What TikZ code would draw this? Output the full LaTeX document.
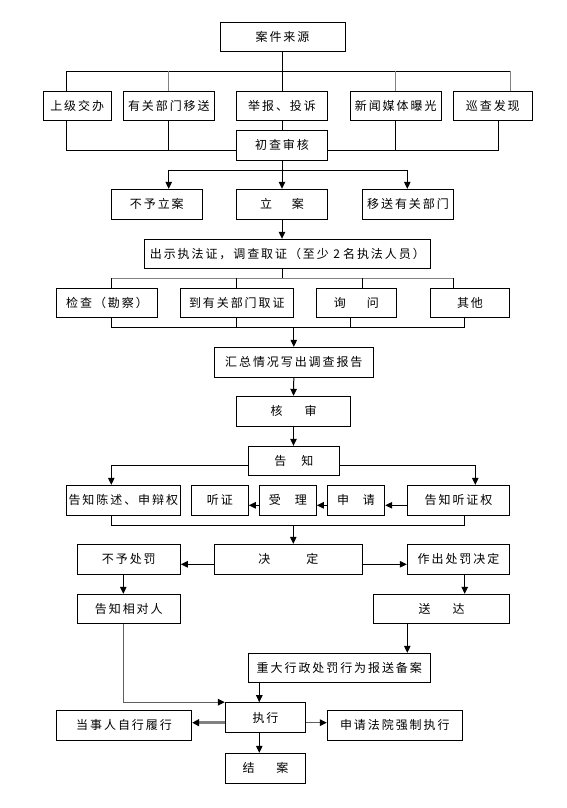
\documentclass[tikz,border=0pt]{standalone}
\usepackage{fontspec}
\setmainfont{Noto Sans CJK SC}[LetterSpace=16]
\usetikzlibrary{arrows.meta}
\definecolor{lgray}{RGB}{130,130,130}
\definecolor{dgray}{RGB}{95,95,95}
\tikzset{
  box/.style={draw, line width=1pt, fill=white, minimum height=29.5pt, inner sep=0pt,
    font=\fontsize{12}{14}\selectfont},
  ln/.style={line width=1pt},
  gln/.style={line width=1pt, draw=lgray},
  arr/.style={line width=1pt, -{Triangle[length=7pt,width=6.5pt]}},
  garr/.style={line width=1.4pt, draw=dgray, -{Triangle[length=7pt,width=6.5pt,color=black]}},
  garrthick/.style={line width=2.6pt, draw=lgray, -{Triangle[length=7pt,width=7pt,color=black]}},
}
\begin{document}
\begin{tikzpicture}[x=1pt,y=-1pt]
\useasboundingbox[fill=white] (0,0) rectangle (566,808);
% boxes
\node[box,minimum width=125] (src) at (282.5,36.8) {案件来源};
\node[box,minimum width=67.7,minimum height=28.7] (r1a) at (77.2,105.7) {上级交办};
\node[box,minimum width=91,minimum height=28.7] (r1b) at (168.8,105.7) {有关部门移送};
\node[box,minimum width=91,minimum height=28.7] (r1c) at (282,105.7) {举报、投诉};
\node[box,minimum width=91.3,minimum height=28.7] (r1d) at (395.7,105.7) {新闻媒体曝光};
\node[box,minimum width=79,minimum height=28.7] (r1e) at (492.8,105.7) {巡查发现};
\node[box,minimum width=91,minimum height=30] (chk) at (282,145.3) {初查审核};
\node[box,minimum width=91,minimum height=30] (r2a) at (156.8,204.3) {不予立案};
\node[box,minimum width=91,minimum height=30] (r2b) at (282,204.3) {立\hspace{20pt}案};
\node[box,minimum width=91.4,minimum height=30] (r2c) at (408,204.3) {移送有关部门};
\node[box,minimum width=286,minimum height=29] (inv) at (287.3,253.8) {出示执法证，调查取证（至少 2\hspace{3pt}名执法人员）};
\node[box,minimum width=100.6,minimum height=29] (r3a) at (107,302.8) {检查（勘察）};
\node[box,minimum width=113,minimum height=29] (r3b) at (236.8,302.8) {到有关部门取证};
\node[box,minimum width=80,minimum height=29] (r3c) at (356.3,302.8) {询\hspace{21pt}问};
\node[box,minimum width=79.4,minimum height=29] (r3d) at (470,302.8) {其他};
\node[box,minimum width=159,minimum height=30] (rep) at (293.8,362.3) {汇总情况写出调查报告};
\node[box,minimum width=114.4,minimum height=30] (rev) at (293.5,411.3) {核\hspace{22pt}审};
\node[box,minimum width=91,minimum height=29] (ntf) at (293.8,460.8) {告\hspace{15pt}知};
\node[box,minimum width=114,minimum height=30] (r4a) at (123.3,500.3) {告知陈述、申辩权};
\node[box,minimum width=57,minimum height=30] (r4b) at (219.8,500.3) {听证};
\node[box,minimum width=57,minimum height=30] (r4c) at (287.8,500.3) {受\hspace{14pt}理};
\node[box,minimum width=57.4,minimum height=30] (r4d) at (356,500.3) {申\hspace{14pt}请};
\node[box,minimum width=102.4,minimum height=30] (r4e) at (458.5,500.3) {告知听证权};
\node[box,minimum width=103,minimum height=30] (r5a) at (128.8,559.3) {不予处罚};
\node[box,minimum width=148,minimum height=30] (dec) at (288.3,559.3) {决\hspace{36pt}定};
\node[box,minimum width=102.4,minimum height=30] (r5c) at (458.5,559.3) {作出处罚决定};
\node[box,minimum width=103,minimum height=29] (tell) at (128.8,608.8) {告知相对人};
\node[box,minimum width=136.4,minimum height=29] (dlv) at (441.5,608.8) {送\hspace{22pt}达};
\node[box,minimum width=182,minimum height=29.4] (rec) at (339.3,668) {重大行政处罚行为报送备案};
\node[box,minimum width=80.4,minimum height=29.6] (exe) at (265.5,717.5) {执行};
\node[box,minimum width=135.4,minimum height=30] (self) at (124,725.3) {当事人自行履行};
\node[box,minimum width=135,minimum height=30] (crt) at (394.8,725.3) {申请法院强制执行};
\node[box,minimum width=80.4,minimum height=30] (end) at (265.5,768.3) {结\hspace{22pt}案};
% sources bus
\coordinate (b1L) at (66.7,71); \coordinate (b1R) at (510,71);
\draw[ln] (src.south) -- (src.south |- b1L);
\draw[ln] (b1L) -- (b1R);
\draw[ln] (b1L) -- (b1L |- r1a.north);
\draw[gln] (r1b.north |- b1L) -- (r1b.north);
\draw[ln] (r1c.north |- b1L) -- (r1c.north);
\draw[gln] (r1d.north |- b1L) -- (r1d.north);
\draw[gln] (b1R) -- (b1R |- r1e.north);
\coordinate (b2L) at (66.7,150); \coordinate (b2R) at (498,150);
\draw[ln] (b2L |- r1a.south) -- (b2L) -- (b2L -| chk.west);
\draw[ln] (r1b.south) -- (r1b.south |- b2L);
\draw[ln] (r1c.south) -- (chk.north);
\draw[ln] (b2R |- r1e.south) -- (b2R) -- (b2R -| chk.east);
\draw[ln] (r1d.south) -- (r1d.south |- b2R);
% filing
\coordinate (b3L) at (168.7,170.3); \coordinate (b3R) at (407.3,170.3);
\draw[ln] (b3L) -- (b3R);
\draw[arr] (b3L) -- (b3L |- r2a.north);
\draw[arr] (chk.south) -- (r2b.north);
\draw[arr] (b3R) -- (b3R |- r2c.north);
\draw[arr] (r2b.south) -- (r2b.south |- inv.north);
% investigation
\coordinate (b4L) at (111.3,278.3); \coordinate (b4R) at (453.3,278.3);
\draw[ln] (inv.south -| r2b.south) -- (r2b.south |- b4L);
\draw[gln] (b4L) -- (b4R);
\draw[ln] (b4L) -- (b4L |- r3a.north);
\coordinate (d4b) at (236.3,278.3); \draw[ln] (d4b) -- (d4b |- r3b.north);
\coordinate (d4c) at (362.3,278.3); \draw[ln] (d4c) -- (d4c |- r3c.north);
\draw[ln] (b4R) -- (b4R |- r3d.north);
\coordinate (b5L) at (111.3,327.3); \coordinate (b5R) at (464.7,327.3);
\draw[ln] (b5L |- r3a.south) -- (b5L) -- (b5R) -- (b5R |- r3d.south);
\draw[ln] (d4b |- r3b.south) -- (d4b |- b5L);
\coordinate (u5c) at (350.3,327.3); \draw[ln] (u5c |- r3c.south) -- (u5c);
\draw[arr] (rep.north |- b5L) -- (rep.north);
\draw[arr] (rep.south) -- (rev.north);
\draw[arr] (rev.south) -- (rev.south |- ntf.north);
% notification
\coordinate (b6L) at (111.3,465.3); \coordinate (b6R) at (475.3,465.3);
\draw[arr] (b6L -| ntf.west) -- (b6L) -- (b6L |- r4a.north);
\draw[arr] (b6R -| ntf.east) -- (b6R) -- (b6R |- r4e.north);
\coordinate (h7) at (0,505.3);
\draw[arr] (r4e.west |- h7) -- (r4d.east |- h7);
\draw[arr] (r4d.west |- h7) -- (r4c.east |- h7);
\draw[arr] (r4c.west |- h7) -- (r4b.east |- h7);
\coordinate (b7L) at (111.3,525.3); \coordinate (b7R) at (464.7,525.3);
\draw[ln] (b7L |- r4a.south) -- (b7L) -- (b7R) -- (b7R |- r4e.south);
\coordinate (b7c) at (293.3,525.3);
\draw[arr] (b7c) -- (b7c |- dec.north);
% decision
\coordinate (h8) at (0,564.3);
\draw[arr] (dec.west |- h8) -- (r5a.east |- h8);
\draw[arr] (dec.east |- h8) -- (r5c.west |- h8);
\coordinate (v9) at (123.3,0);
\draw[arr] (v9 |- r5a.south) -- (v9 |- tell.north);
\coordinate (v10) at (464.7,0);
\draw[arr] (v10 |- r5c.south) -- (v10 |- dlv.north);
\coordinate (v11) at (407.3,0);
\draw[arr] (v11 |- dlv.south) -- (v11 |- rec.north);
\draw[garr] (v9 |- tell.south) |- (exe.north west);
\coordinate (v12) at (259.3,0);
\draw[arr] (v12 |- rec.south) -- (v12 |- exe.north);
\coordinate (h13) at (0,722.7);
\draw[garrthick] (exe.west |- h13) -- (self.east |- h13);
\draw[garr] (exe.east |- h13) -- (crt.west |- h13);
\draw[arr] (v12 |- exe.south) -- (v12 |- end.north);
\end{tikzpicture}
\end{document}
